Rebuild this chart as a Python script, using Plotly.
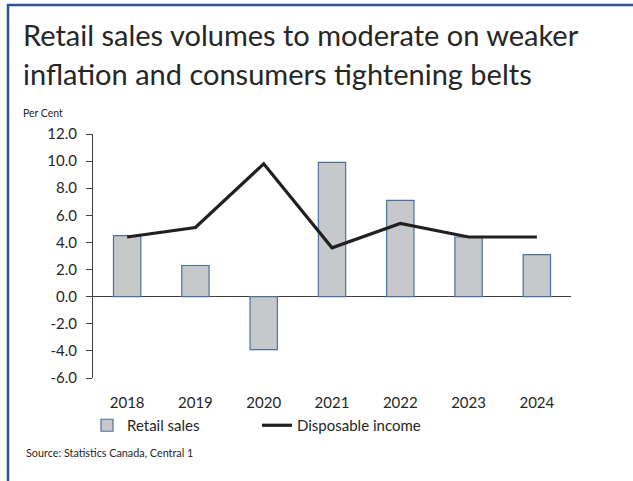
import plotly.graph_objects as go

# Annual growth, per cent
years = ["2018", "2019", "2020", "2021", "2022", "2023", "2024"]
retail_sales = [4.5, 2.3, -3.9, 9.9, 7.1, 4.4, 3.1]
disposable_income = [4.4, 5.1, 9.8, 3.6, 5.4, 4.4, 4.4]
y_ticks = [-6, -4, -2, 0, 2, 4, 6, 8, 10, 12]
y_tick_labels = ["-6.0", "-4.0", "-2.0", "0.0", "2.0", "4.0", "6.0", "8.0", "10.0", "12.0"]

W, H = 633, 481
L, R, T, B = 93, 62, 134, 103
PW, PH = W - L - R, H - T - B
FONT = "Lato"
TXT = "#262626"


def px_x(x):
    return (x - L) / PW


def px_y(y):
    return (H - B - y) / PH


fig = go.Figure()
fig.add_trace(go.Bar(
    x=years, y=retail_sales, name="Retail sales", width=0.4,
    marker=dict(color="#C7C8CA", line=dict(color="#4A70A3", width=1.2)),
))
fig.add_trace(go.Scatter(
    x=years, y=disposable_income, name="Disposable income", mode="lines",
    line=dict(color="#231F20", width=3.2),
))

annotations = [
    dict(text="Retail sales volumes to moderate on weaker", x=px_x(21), y=px_y(34),
         font=dict(size=29, color=TXT, family=FONT)),
    dict(text="inflation and consumers tightening belts", x=px_x(21), y=px_y(73),
         font=dict(size=29, color=TXT, family=FONT)),
    dict(text="Per Cent", x=px_x(21), y=px_y(113),
         font=dict(size=10.5, color=TXT, family=FONT)),
    dict(text="Source: Statistics Canada, Central 1", x=px_x(24), y=px_y(452),
         font=dict(size=10.8, color=TXT, family=FONT)),
]
for a in annotations:
    a.update(xref="paper", yref="paper", xanchor="left", yanchor="middle",
             showarrow=False)

# Frame: blue rules along the top and left edge
shapes = [
    dict(type="line", xref="paper", yref="paper", x0=px_x(7), x1=px_x(W),
         y0=px_y(5), y1=px_y(5), line=dict(color="#2E5191", width=2.5)),
    dict(type="line", xref="paper", yref="paper", x0=px_x(8), x1=px_x(8),
         y0=px_y(4), y1=px_y(H), line=dict(color="#2E5191", width=2.5)),
]

fig.update_layout(
    width=W, height=H,
    margin=dict(l=L, r=R, t=T, b=B, pad=0),
    paper_bgcolor="white", plot_bgcolor="white",
    font=dict(family=FONT, color=TXT, size=15),
    showlegend=True,
    legend=dict(orientation="h", x=px_x(87), y=px_y(409), xanchor="left",
                yanchor="top", entrywidth=125, entrywidthmode="pixels",
                font=dict(size=15, color=TXT, family=FONT), traceorder="normal",
                itemwidth=30),
    annotations=annotations,
    shapes=shapes,
    bargap=0.6,
)
fig.update_xaxes(
    type="category", range=[-0.5, 6.5], showline=False, showgrid=False,
    ticks="outside", ticklen=0, ticklabelstandoff=11,
    tickfont=dict(size=15, color=TXT, family=FONT),
)
fig.update_yaxes(
    range=[-6, 12], tickvals=y_ticks, ticktext=y_tick_labels,
    showgrid=False, showline=True, linecolor="#404040", linewidth=1,
    ticks="outside", ticklen=6, tickcolor="#404040", ticklabelstandoff=6,
    zeroline=True, zerolinecolor="#404040", zerolinewidth=1.2,
    tickfont=dict(size=15, color=TXT, family=FONT),
)

fig.write_html("out.html")
